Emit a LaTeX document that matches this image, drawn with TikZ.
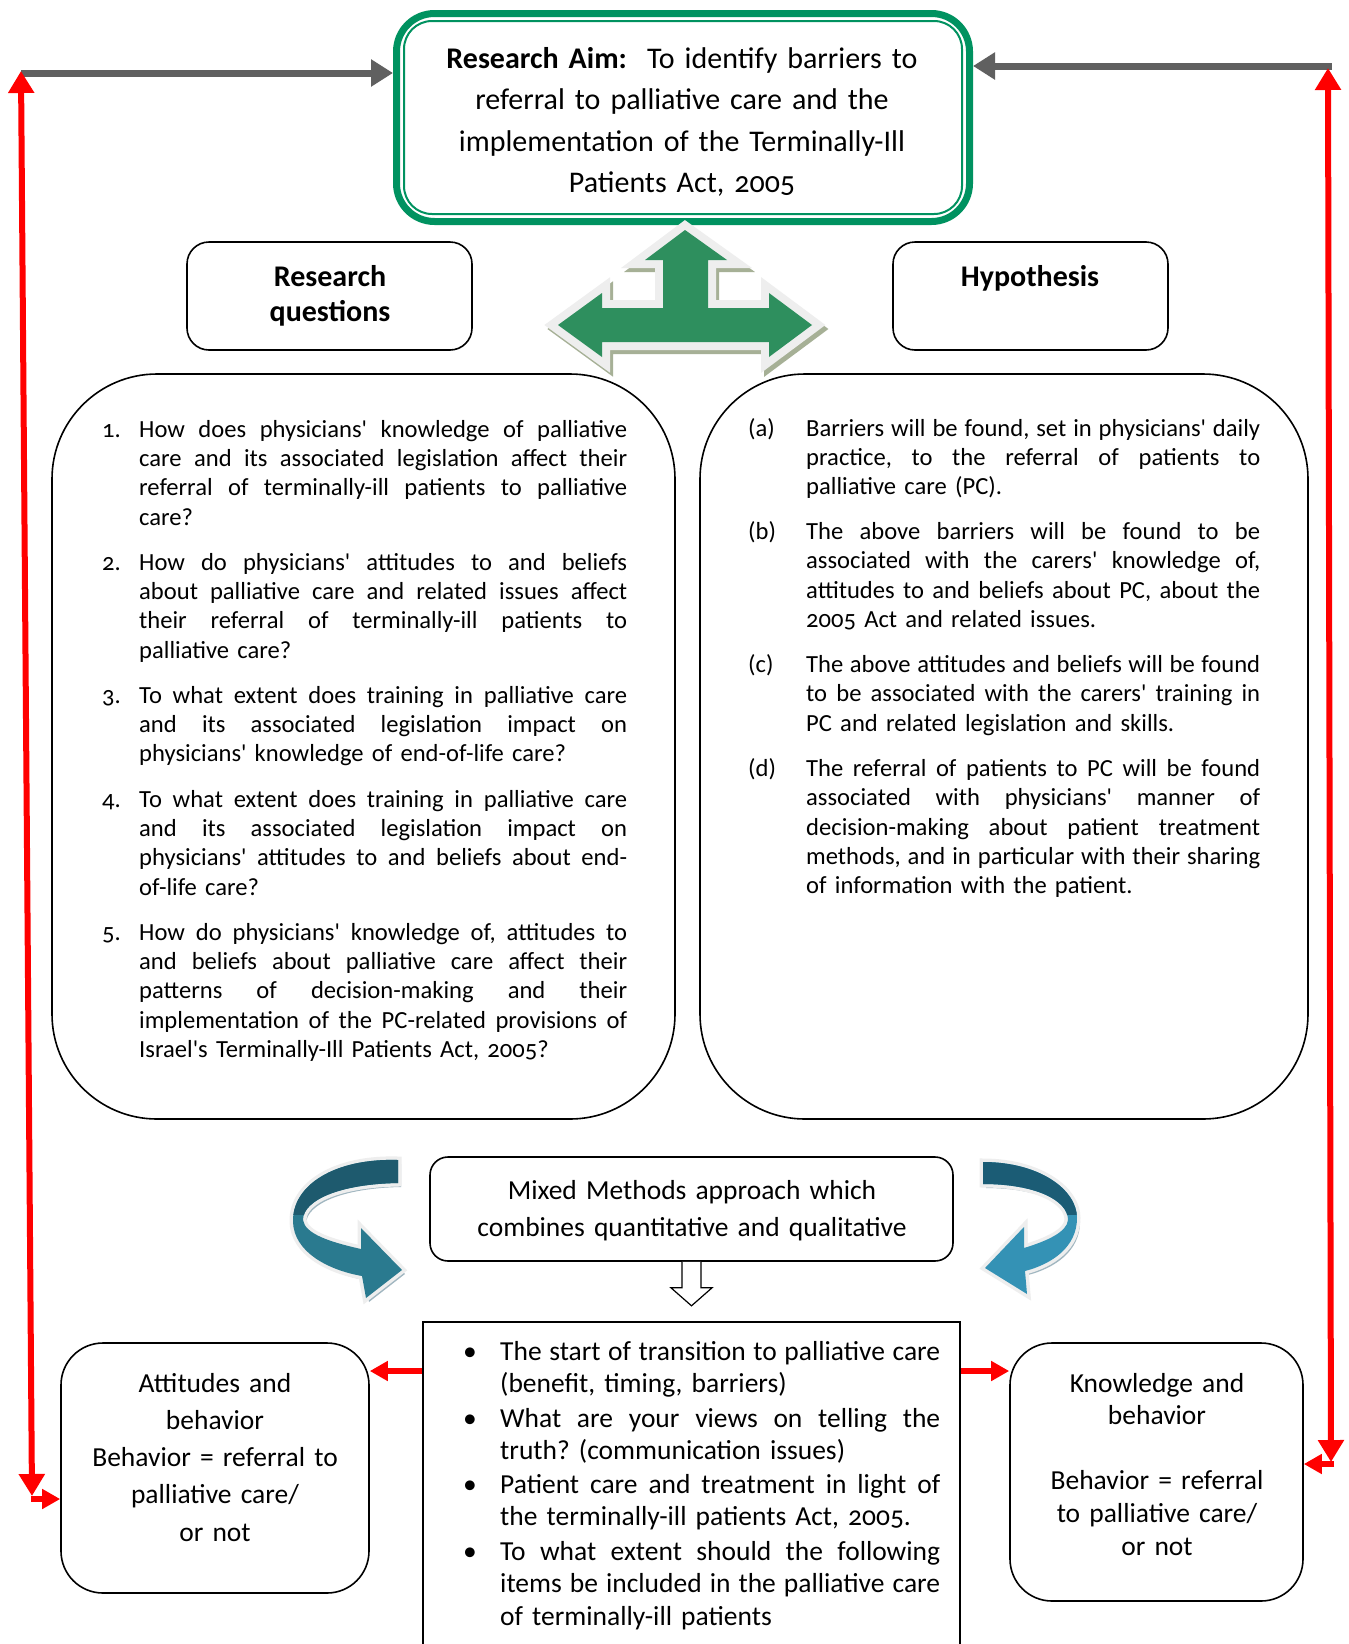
\documentclass[tikz,border=0pt]{standalone}
\usepackage{fontspec}
\setmainfont{Carlito}[Ligatures=TeXOff,Numbers=OldStyle]
\usetikzlibrary{arrows.meta,calc}
\definecolor{aimgreen}{RGB}{0,146,96}
\definecolor{arrgreen}{RGB}{46,143,94}
\definecolor{arrshadow}{RGB}{166,176,150}
\definecolor{outl}{RGB}{238,238,238}
\definecolor{greyarr}{RGB}{96,96,96}
\definecolor{ldark}{RGB}{30,90,110}
\definecolor{llight}{RGB}{42,122,143}
\definecolor{rdark}{RGB}{27,92,117}
\definecolor{rlight}{RGB}{52,146,181}
\definecolor{cshadow}{RGB}{160,182,192}
\frenchspacing
\newcommand\JL[1]{\leavevmode\hbox to\linewidth{\spaceskip=\fontdimen2\font plus 1fil\relax #1}\\}
\newcommand\LL[1]{\leavevmode#1}
\tikzset{
  bx/.style={draw=black, line width=1.6pt, inner sep=0pt},
  lst/.style={font=\fontsize{24.6pt}{29.35pt}\selectfont\frenchspacing, inner sep=0pt, anchor=base west},
  mid/.style={font=\fontsize{27.5pt}{32.7pt}\selectfont\frenchspacing, inner sep=0pt, anchor=base west},
  ctr/.style={inner sep=0pt, anchor=base, align=center},
  redln/.style={draw=red, line width=6pt},
  smalltip/.style={-{Triangle[length=18pt,width=19pt]}},
  bigtips/.style={{Triangle[length=22pt,width=25pt]}-{Triangle[length=22pt,width=25pt]}},
  greyln/.style={draw=greyarr, line width=7pt, -{Triangle[length=22pt,width=26pt]}},
}
\begin{document}
\begin{tikzpicture}[x=1pt,y=-1pt]
\useasboundingbox (0,0) rectangle (1349,1644);
\clip (0,0) rectangle (1349,1644);
\fill[white] (0,0) rectangle (1349,1644);

% ---------- aim box ----------
\node[draw=aimgreen, line width=7pt, rounded corners=38pt, minimum width=573pt, minimum height=208pt, inner sep=0pt] (aim) at (683,117.5) {};
\draw[aimgreen, line width=2pt, rounded corners=28pt] ([shift={(11,11)}]aim.north west) rectangle ([shift={(-11,-11)}]aim.south east);
\node[ctr, text width=570pt, font=\fontsize{30pt}{41.5pt}\selectfont] (aimt) at (682,68)
  {\textbf{Research Aim:}\ \ To identify barriers to\\referral to palliative care and the\\implementation of the Terminally-Ill\\Patients Act, 2005};

% ---------- headers ----------
\node[bx, rounded corners=22pt, minimum width=285pt, minimum height=108pt] (rq) at (329.5,296) {};
\node[ctr, text width=280pt, font=\fontsize{30pt}{35pt}\selectfont\bfseries] (rqt) at (330,286) {Research\\questions};
\node[bx, rounded corners=22pt, minimum width=275pt, minimum height=108pt] (hyp) at (1030.5,296) {};
\node[ctr, text width=270pt, font=\fontsize{30pt}{35pt}\selectfont\bfseries] (hypt) at (1030,286) {Hypothesis};

% ---------- big boxes ----------
\node[bx, rounded corners=105pt, minimum width=623pt, minimum height=745pt] (lq) at (363.5,746.5) {};
\node[bx, rounded corners=105pt, minimum width=608pt, minimum height=745pt] (hb) at (1004,746.5) {};

% ---------- green three-way arrow ----------
\def\garrow{(685,230) -- (727,260) -- (708,260) -- (708,308) -- (769,308) -- (769,293) -- (812,325) -- (769,357) -- (769,342) -- (602,342) -- (602,357) -- (558,325) -- (602,293) -- (602,308) -- (663,308) -- (663,260) -- (645,260) -- cycle}
\filldraw[arrshadow, line width=16pt, line join=miter, shift={(3,4)}] \garrow;
\filldraw[outl, line width=16pt, line join=miter] \garrow;
\fill[arrgreen] \garrow;

% left list
\node[lst] (n1) at (102,437) {1.};
\node[lst, text width=488pt] (q1) at (139,437) {%
\JL{How does physicians' knowledge of palliative}\JL{care and its associated legislation affect their}\JL{referral of terminally-ill patients to palliative}\LL{care?}};
\node[lst] (n2) at (102,570) {2.};
\node[lst, text width=488pt] (q2) at (139,570) {%
\JL{How do physicians' attitudes to and beliefs}\JL{about palliative care and related issues affect}\JL{their referral of terminally-ill patients to}\LL{palliative care?}};
\node[lst] (n3) at (102,703) {3.};
\node[lst, text width=488pt] (q3) at (139,703) {%
\JL{To what extent does training in palliative care}\JL{and its associated legislation impact on}\LL{physicians' knowledge of end-of-life care?}};
\node[lst] (n4) at (102,807) {4.};
\node[lst, text width=488pt] (q4) at (139,807) {%
\JL{To what extent does training in palliative care}\JL{and its associated legislation impact on}\JL{physicians' attitudes to and beliefs about end-}\LL{of-life care?}};
\node[lst] (n5) at (102,940) {5.};
\node[lst, text width=488pt] (q5) at (139,940) {%
\JL{How do physicians' knowledge of, attitudes to}\JL{and beliefs about palliative care affect their}\JL{patterns of decision-making and their}\JL{implementation of the PC-related provisions of}\LL{Israel's Terminally-Ill Patients Act, 2005?}};

% right list
\node[lst] (la) at (748,436) {(a)};
\node[lst, text width=454pt] (ha) at (806,436) {%
\JL{Barriers will be found, set in physicians' daily}\JL{practice, to the referral of patients to}\LL{palliative care (PC).}};
\node[lst] (lb) at (748,539.5) {(b)};
\node[lst, text width=454pt] (hbb) at (806,539.5) {%
\JL{The above barriers will be found to be}\JL{associated with the carers' knowledge of,}\JL{attitudes to and beliefs about PC, about the}\LL{2005 Act and related issues.}};
\node[lst] (lc) at (748,672.5) {(c)};
\node[lst, text width=454pt] (hc) at (806,672.5) {%
\JL{The above attitudes and beliefs will be found}\JL{to be associated with the carers' training in}\LL{PC and related legislation and skills.}};
\node[lst] (ld) at (748,776.5) {(d)};
\node[lst, text width=454pt] (hd) at (806,776.5) {%
\JL{The referral of patients to PC will be found}\JL{associated with physicians' manner of}\JL{decision-making about patient treatment}\JL{methods, and in particular with their sharing}\LL{of information with the patient.}};

% ---------- curved arrows ----------
\def\lcurve{(398,1160) .. controls (335,1158) and (292,1185) .. (293,1222) .. controls (294,1252) and (328,1270) .. (362,1276) -- (366,1298) -- (402,1270) -- (361,1228) -- (361,1249) .. controls (330,1242) and (305,1234) .. (303,1220) .. controls (303,1200) and (340,1184) .. (398,1183) -- cycle}
\fill[cshadow, shift={(3,4)}] \lcurve;
\draw[outl, line width=7pt, line join=miter] \lcurve;
\fill[llight] \lcurve;
\begin{scope}
  \clip (270,1140) rectangle (420,1214);
  \fill[ldark] \lcurve;
\end{scope}
\def\rcurve{(983,1162) .. controls (1040,1162) and (1077,1190) .. (1077,1218) .. controls (1077,1247) and (1052,1264) .. (1025,1271) -- (1027,1294) -- (985,1268) -- (1024,1227) -- (1024,1248) .. controls (1047,1241) and (1067,1232) .. (1068,1220) .. controls (1068,1200) and (1035,1184) .. (983,1184) -- cycle}
\fill[cshadow, shift={(3,4)}] \rcurve;
\draw[outl, line width=7pt, line join=miter] \rcurve;
\fill[rlight] \rcurve;
\begin{scope}
  \clip (960,1140) rectangle (1100,1214);
  \fill[rdark] \rcurve;
\end{scope}

% ---------- mixed methods ----------
\node[bx, rounded corners=18pt, minimum width=523pt, minimum height=104pt] (mm) at (691.5,1209) {};
\node[ctr, text width=515pt, font=\fontsize{27.5pt}{37pt}\selectfont] (mmt) at (692,1199) {Mixed Methods approach which\\combines quantitative and qualitative};

% ---------- bottom boxes ----------
\node[bx, minimum width=537pt, minimum height=440pt] (qb) at (691.5,1542) {};
\draw[line width=1.2pt, fill=white] ($(mm.south)+(-9.5,0)$) -- ++(0,26) -- ++(-11,0) -- ($(mm.south)+(0,44)$) -- ($(mm.south)+(20.5,26)$) -- ++(-11,0) -- ($(mm.south)+(9.5,0)$);

\node[mid, anchor=base] (bu1) at (470,1360) {•};
\node[mid, text width=440pt] (b1) at (500,1360) {%
\JL{The start of transition to palliative care}\LL{(benefit, timing, barriers)}};
\node[mid, anchor=base] (bu2) at (470,1427) {•};
\node[mid, text width=440pt] (b2) at (500,1427) {%
\JL{What are your views on telling the}\LL{truth? (communication issues)}};
\node[mid, anchor=base] (bu3) at (470,1493) {•};
\node[mid, text width=440pt] (b3) at (500,1493) {%
\JL{Patient care and treatment in light of}\LL{the terminally-ill patients Act, 2005.}};
\node[mid, anchor=base] (bu4) at (470,1560) {•};
\node[mid, text width=440pt] (b4) at (500,1560) {%
\JL{To what extent should the following}\JL{items be included in the palliative care}\LL{of terminally-ill patients}};

\node[bx, rounded corners=42pt, minimum width=308pt, minimum height=250pt] (att) at (215,1468) {};
\node[ctr, text width=300pt, font=\fontsize{27.5pt}{37.3pt}\selectfont] (attt) at (215,1392)
  {Attitudes and\\behavior\\Behavior = referral to\\palliative care/\\or not};
\node[bx, rounded corners=42pt, minimum width=293pt, minimum height=258pt] (know) at (1156.5,1472) {};
\node[ctr, text width=285pt, font=\fontsize{27.5pt}{32.6pt}\selectfont] (knowt) at (1157,1392)
  {Knowledge and\\behavior\\[32.6pt]Behavior = referral\\to palliative care/\\or not};

% ---------- connectors ----------
\coordinate (glt) at (21,73);
\coordinate (grt) at (1332,66);
\draw[greyln] (glt) -- (glt -| aim.west);
\draw[greyln] (grt) -- (grt -| aim.east);

\coordinate (rlt) at (21,71);
\coordinate (rlb) at (32,1496);
\coordinate (rle) at (31,1499);
\draw[redln, bigtips] (rlt) -- (rlb);
\draw[redln, smalltip] (rle) -- (att.west |- rle);

\coordinate (rrt) at (1328,68);
\coordinate (rrb) at (1331,1462);
\coordinate (rre) at (1334,1464);
\draw[redln, bigtips] (rrt) -- (rrb);
\draw[redln, smalltip] (rre) -- (know.east |- rre);

\coordinate (ya) at (0,1371);
\draw[redln, smalltip] (qb.west |- ya) -- (att.east |- ya);
\draw[redln, smalltip] (qb.east |- ya) -- (know.west |- ya);
\end{tikzpicture}
\end{document}
